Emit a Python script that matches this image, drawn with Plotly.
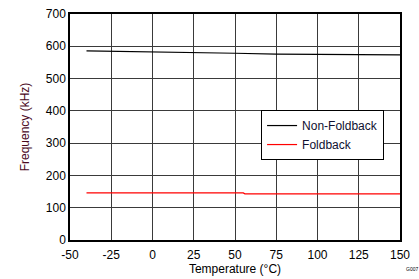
import plotly.graph_objects as go

temps = [-40, -25, 0, 25, 50, 75, 100, 125, 150]
non_foldback = [586, 585, 583, 581, 578.5, 576, 575, 574, 573.5]
foldback_t = [-40, -25, 0, 25, 50, 55, 56, 75, 100, 125, 150]
foldback = [146, 146, 146, 146, 146, 146, 143, 143, 143, 143, 143]

x_ticks = [-50, -25, 0, 25, 50, 75, 100, 125, 150]
y_ticks = [0, 100, 200, 300, 400, 500, 600, 700]

font_fam = "Liberation Sans, Arial, sans-serif"

fig = go.Figure()
fig.add_trace(go.Scatter(x=temps, y=non_foldback, mode="lines", name="Non-Foldback",
                         line=dict(color="black", width=1.2)))
fig.add_trace(go.Scatter(x=foldback_t, y=foldback, mode="lines", name="Foldback",
                         line=dict(color="#ff0000", width=1.2)))

fig.update_layout(
    width=419, height=279,
    margin=dict(l=70, r=19, t=7, b=38),
    paper_bgcolor="white", plot_bgcolor="white",
    font=dict(family=font_fam, size=12, color="black"),
    showlegend=True,
    legend=dict(x=0.579, y=0.575, xanchor="left", yanchor="top",
                bgcolor="white", bordercolor="black", borderwidth=1,
                font=dict(size=12, color="#101030"), itemwidth=30,
                tracegroupgap=0),
    xaxis=dict(range=[-50, 150], tickvals=x_ticks, ticktext=[str(v) for v in x_ticks],
               showgrid=True, gridcolor="#3a3a3a", gridwidth=1,
               showline=True, linecolor="black", linewidth=1.5, mirror=True,
               ticks="", zeroline=False, ticklabelstandoff=3,
               title=dict(text="Temperature (°C)", standoff=1, font=dict(size=12)),
               tickfont=dict(size=12)),
    yaxis=dict(range=[0, 700], tickvals=y_ticks, ticktext=[str(v) for v in y_ticks],
               showgrid=True, gridcolor="#3a3a3a", gridwidth=1,
               showline=True, linecolor="black", linewidth=1.5, mirror=True,
               ticks="", zeroline=False,
               title=dict(text="Frequency (kHz)", standoff=14, font=dict(size=12, color="#4a0a1e")),
               tickfont=dict(size=12)),
)
fig.add_annotation(text="G007", xref="paper", yref="paper", x=1.035, y=-0.13,
                   xanchor="center", yanchor="middle", showarrow=False,
                   font=dict(size=5, color="black"))
fig.write_html("out.html")
